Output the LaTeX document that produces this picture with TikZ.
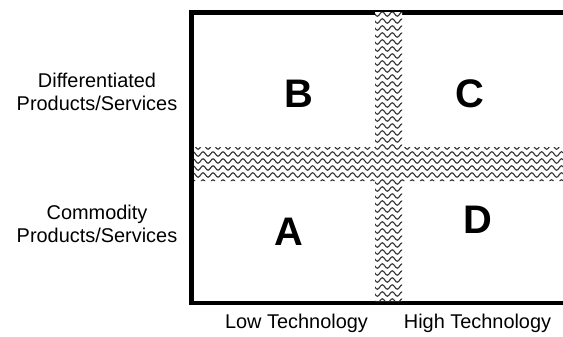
\documentclass[tikz,border=0pt]{standalone}
\usepackage{fontspec}
\setmainfont{Liberation Sans}
\usetikzlibrary{decorations.pathmorphing}

\begin{document}
\begin{tikzpicture}[
  x=0.03cm, y=-0.03cm,
  axislabel/.style={font=\fontsize{17}{19.6}\selectfont, align=center, inner sep=0pt},
  quadlabel/.style={font=\fontsize{34}{38}\selectfont\bfseries, inner sep=0pt},
  wave/.style={draw=black!80, line width=0.95pt, decorate, decoration={snake, amplitude=1.9pt, segment length=8.5pt}}
]
  \useasboundingbox (0,0) rectangle (563,336);

  % Outer frame, open on the right
  \draw[line width=4.2pt] (563,12.5) -- (191.5,12.5) -- (191.5,303) -- (563,303);

  % Wavy bands splitting the grid
  \fill[white] (375,12) rectangle (402,301) (194,147) rectangle (563,181);
  \begin{scope}
    \clip (375,12) rectangle (402,301) (194,147) rectangle (563,181);
    \foreach \y in {0,...,41}
      \draw[wave] (190,14+7*\y) -- (570,14+7*\y);
  \end{scope}

  % Quadrants
  \node[quadlabel] (qB) at (299,93.5) {B};
  \node[quadlabel] (qC) at (470,93.5) {C};
  \node[quadlabel] (qA) at (289,231.5) {A};
  \node[quadlabel] (qD) at (478,220) {D};

  % Row labels
  \node[axislabel] (rowhi) at (97,92) {Differentiated\\Products/Services};
  \node[axislabel] (rowlo) at (97,224) {Commodity\\Products/Services};

  % Column labels
  \node[axislabel, anchor=base] (collo) at (296.5,328) {Low Technology};
  \node[axislabel, anchor=base] (colhi) at (477.5,328) {High Technology};
\end{tikzpicture}
\end{document}
